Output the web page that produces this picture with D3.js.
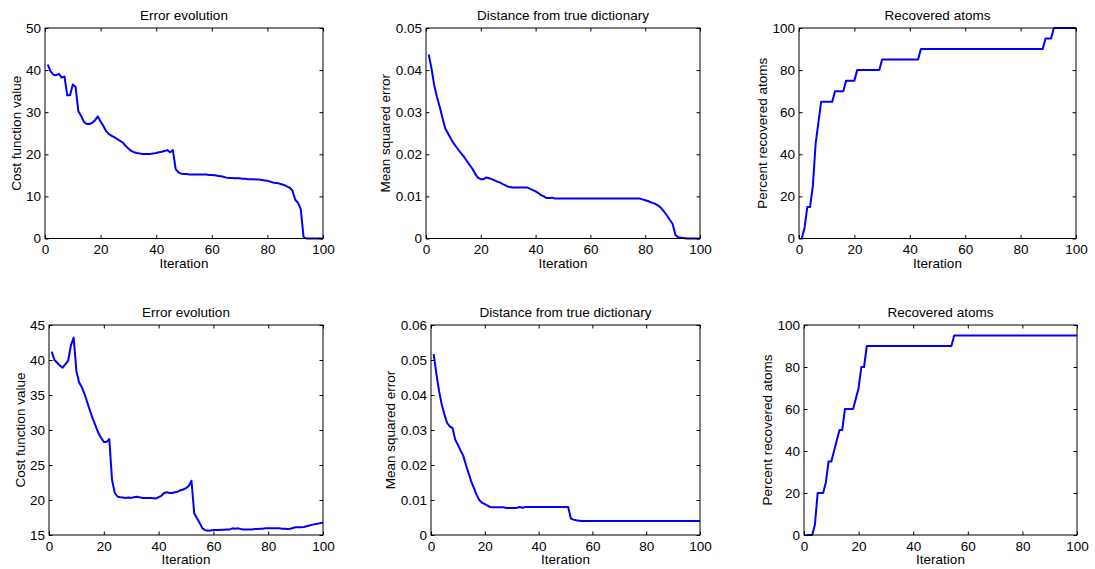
<!DOCTYPE html>
<html>
<head>
<meta charset="utf-8">
<script src="https://cdn.jsdelivr.net/npm/d3@7"></script>
<style>
  html, body { margin: 0; padding: 0; background: #fff; }
  svg { display: block; }
  text { font-family: "Liberation Sans", Arial, Helvetica, sans-serif; fill: #000; }
</style>
</head>
<body>
<svg id="chart" width="1095" height="569"></svg>
<script>
// Iteration index shared by every panel
const iterations = d3.range(1, 101);
const xTicks = [0, 20, 40, 60, 80, 100];

// Run A (top row)
const costA = [
  41.3, 39.7, 38.9, 38.8, 39.1, 38.2, 38.5, 34.0, 34.0, 36.6,
  36.0, 30.2, 29.1, 27.7, 27.2, 27.2, 27.5, 28.1, 29.0, 27.8,
  26.7, 25.5, 24.8, 24.4, 24.0, 23.6, 23.2, 22.8, 22.0, 21.4,
  20.8, 20.5, 20.3, 20.2, 20.1, 20.1, 20.1, 20.1, 20.2, 20.3,
  20.5, 20.6, 20.8, 21.0, 20.5, 21.0, 16.5, 15.7, 15.4, 15.3,
  15.3, 15.2, 15.2, 15.2, 15.2, 15.2, 15.2, 15.2, 15.1, 15.1,
  15.0, 14.9, 14.8, 14.7, 14.5, 14.4, 14.4, 14.3, 14.3, 14.3,
  14.2, 14.2, 14.1, 14.1, 14.1, 14.0, 14.0, 13.9, 13.8, 13.7,
  13.5, 13.3, 13.2, 13.1, 12.9, 12.7, 12.4, 12.1, 11.4, 9.2,
  8.5, 7.0, 0.4, 0, 0, 0, 0, 0, 0, 0
];
const mseA = [
  0.0437, 0.0404, 0.0364, 0.0336, 0.0313, 0.0287, 0.0262, 0.0250, 0.0238, 0.0227,
  0.0218, 0.0209, 0.0201, 0.0193, 0.0183, 0.0174, 0.0165, 0.0153, 0.0144, 0.0141,
  0.0141, 0.0145, 0.0143, 0.0141, 0.0138, 0.0135, 0.0133, 0.0129, 0.0126, 0.0123,
  0.0122, 0.0121, 0.0121, 0.0121, 0.0121, 0.0121, 0.0121, 0.0118, 0.0115, 0.0112,
  0.0108, 0.0103, 0.0100, 0.0096, 0.0096, 0.0097, 0.0095, 0.0095, 0.0095, 0.0095,
  0.0095, 0.0095, 0.0095, 0.0095, 0.0095, 0.0095, 0.0095, 0.0095, 0.0095, 0.0095,
  0.0095, 0.0095, 0.0095, 0.0095, 0.0095, 0.0095, 0.0095, 0.0095, 0.0095, 0.0095,
  0.0095, 0.0095, 0.0095, 0.0095, 0.0095, 0.0095, 0.0095, 0.0095, 0.0093, 0.0091,
  0.0089, 0.0086, 0.0084, 0.0081, 0.0077, 0.0071, 0.0063, 0.0054, 0.0044, 0.0035,
  0.0009, 0.0003, 0.0002, 0.0001, 0, 0, 0, 0, 0, 0
];
const recoveredA = [
  0, 5, 15, 15, 25, 45, 55, 65, 65, 65,
  65, 65, 70, 70, 70, 70, 75, 75, 75, 75,
  80, 80, 80, 80, 80, 80, 80, 80, 80, 85,
  85, 85, 85, 85, 85, 85, 85, 85, 85, 85,
  85, 85, 85, 90, 90, 90, 90, 90, 90, 90,
  90, 90, 90, 90, 90, 90, 90, 90, 90, 90,
  90, 90, 90, 90, 90, 90, 90, 90, 90, 90,
  90, 90, 90, 90, 90, 90, 90, 90, 90, 90,
  90, 90, 90, 90, 90, 90, 90, 90, 95, 95,
  95, 100, 100, 100, 100, 100, 100, 100, 100, 100
];

// Run B (bottom row)
const costB = [
  41.2, 40.0, 39.6, 39.2, 38.9, 39.4, 39.9, 42.1, 43.2, 38.4,
  36.8, 36.1, 35.1, 33.9, 32.7, 31.6, 30.6, 29.6, 28.9, 28.3,
  28.3, 28.7, 22.9, 21.0, 20.5, 20.4, 20.35, 20.3, 20.35, 20.3,
  20.4, 20.45, 20.4, 20.3, 20.3, 20.3, 20.3, 20.25, 20.2, 20.4,
  20.6, 21.0, 21.1, 21.0, 21.0, 21.1, 21.2, 21.4, 21.5, 21.7,
  22.0, 22.75, 18.1, 17.4, 16.7, 15.95, 15.7, 15.6, 15.65, 15.7,
  15.7, 15.7, 15.75, 15.75, 15.8, 15.8, 15.95, 15.9, 15.95, 15.85,
  15.8, 15.8, 15.8, 15.8, 15.85, 15.85, 15.9, 15.9, 15.95, 15.95,
  15.95, 15.95, 15.95, 15.95, 15.9, 15.9, 15.85, 15.9, 16.0, 16.1,
  16.1, 16.1, 16.15, 16.25, 16.35, 16.45, 16.55, 16.6, 16.7, 16.75
];
const mseB = [
  0.0517, 0.0460, 0.0411, 0.0373, 0.0344, 0.0320, 0.0310, 0.0306, 0.0272, 0.0258,
  0.0241, 0.0226, 0.0200, 0.0176, 0.0152, 0.0133, 0.0114, 0.0099, 0.0092, 0.0088,
  0.0084, 0.0080, 0.0079, 0.0079, 0.0079, 0.0079, 0.0079, 0.0077, 0.0077, 0.0077,
  0.0077, 0.0078, 0.0080, 0.0078, 0.0080, 0.0080, 0.0080, 0.0080, 0.0080, 0.0080,
  0.0080, 0.0080, 0.0080, 0.0080, 0.0080, 0.0080, 0.0080, 0.0080, 0.0080, 0.0080,
  0.0080, 0.0047, 0.0044, 0.0042, 0.0041, 0.0040, 0.0040, 0.0040, 0.0040, 0.0040,
  0.0040, 0.0040, 0.0040, 0.0040, 0.0040, 0.0040, 0.0040, 0.0040, 0.0040, 0.0040,
  0.0040, 0.0040, 0.0040, 0.0040, 0.0040, 0.0040, 0.0040, 0.0040, 0.0040, 0.0040,
  0.0040, 0.0040, 0.0040, 0.0040, 0.0040, 0.0040, 0.0040, 0.0040, 0.0040, 0.0040,
  0.0040, 0.0040, 0.0040, 0.0040, 0.0040, 0.0040, 0.0040, 0.0040, 0.0040, 0.0040
];
const recoveredB = [
  0, 0, 0, 5, 20, 20, 20, 25, 35, 35,
  40, 45, 50, 50, 60, 60, 60, 60, 65, 70,
  80, 80, 90, 90, 90, 90, 90, 90, 90, 90,
  90, 90, 90, 90, 90, 90, 90, 90, 90, 90,
  90, 90, 90, 90, 90, 90, 90, 90, 90, 90,
  90, 90, 90, 90, 95, 95, 95, 95, 95, 95,
  95, 95, 95, 95, 95, 95, 95, 95, 95, 95,
  95, 95, 95, 95, 95, 95, 95, 95, 95, 95,
  95, 95, 95, 95, 95, 95, 95, 95, 95, 95,
  95, 95, 95, 95, 95, 95, 95, 95, 95, 95
];

// Titles, axis labels and y ticks for each kind of panel
const titles = ["Error evolution", "Distance from true dictionary", "Recovered atoms"];
const yLabels = ["Cost function value", "Mean squared error", "Percent recovered atoms"];
const yTicksCostA = [0, 10, 20, 30, 40, 50];
const yTicksMseA = [0, 0.01, 0.02, 0.03, 0.04, 0.05];
const yTicksRecovered = [0, 20, 40, 60, 80, 100];
const yTicksCostB = [15, 20, 25, 30, 35, 40, 45];
const yTicksMseB = [0, 0.01, 0.02, 0.03, 0.04, 0.05, 0.06];

const fmtMse = d => d === 0 ? "0" : d.toFixed(2);
const fmtInt = d => String(d);

// Panel boxes in page pixels
const panels = [
  { box: [45, 28, 323, 238.5],  values: costA,      kind: 0, ticks: yTicksCostA,     fmt: fmtInt },
  { box: [426, 28, 700, 238.5], values: mseA,       kind: 1, ticks: yTicksMseA,      fmt: fmtMse },
  { box: [799, 28, 1076, 238.5], values: recoveredA, kind: 2, ticks: yTicksRecovered, fmt: fmtInt },
  { box: [49, 325, 323, 535],   values: costB,      kind: 0, ticks: yTicksCostB,     fmt: fmtInt },
  { box: [431, 325, 700, 535],  values: mseB,       kind: 1, ticks: yTicksMseB,      fmt: fmtMse },
  { box: [804, 325, 1077, 535], values: recoveredB, kind: 2, ticks: yTicksRecovered, fmt: fmtInt }
];

const FONT = 13.5;
const TICK = 3.5;
const svg = d3.select("#chart");

panels.forEach(p => {
  const [x0, y0, x1, y1] = p.box;
  const x = d3.scaleLinear().domain([0, 100]).range([x0, x1]);
  const y = d3.scaleLinear().domain(d3.extent(p.ticks)).range([y1, y0]);
  const g = svg.append("g");

  // data line
  const line = d3.line().x((d, i) => x(iterations[i])).y(d => y(d));
  g.append("path")
    .datum(p.values)
    .attr("d", line)
    .attr("fill", "none")
    .attr("stroke", "#0000ff")
    .attr("stroke-width", 2)
    .attr("stroke-linejoin", "round");

  // inward ticks on all four sides
  const styleAxis = sel => {
    sel.select(".domain").remove();
    sel.selectAll(".tick line").attr("stroke", "#000").attr("stroke-width", 1);
    sel.selectAll("text")
      .attr("font-family", "'Liberation Sans', Arial, Helvetica, sans-serif")
      .attr("font-size", FONT)
      .attr("fill", "#000");
    sel.attr("font-size", null).attr("font-family", null);
  };

  g.append("g").attr("transform", `translate(0,${y1})`)
    .call(d3.axisBottom(x).tickValues(xTicks).tickSizeInner(-TICK).tickSizeOuter(0).tickPadding(6).tickFormat(fmtInt))
    .call(styleAxis);
  g.append("g").attr("transform", `translate(0,${y0})`)
    .call(d3.axisTop(x).tickValues(xTicks).tickSizeInner(-TICK).tickSizeOuter(0).tickFormat(""))
    .call(styleAxis);
  const left = g.append("g").attr("transform", `translate(${x0},0)`)
    .call(d3.axisLeft(y).tickValues(p.ticks).tickSizeInner(-TICK).tickSizeOuter(0).tickPadding(4).tickFormat(p.fmt))
    .call(styleAxis);
  g.append("g").attr("transform", `translate(${x1},0)`)
    .call(d3.axisRight(y).tickValues(p.ticks).tickSizeInner(-TICK).tickSizeOuter(0).tickFormat(""))
    .call(styleAxis);

  // frame
  g.append("rect")
    .attr("x", x0).attr("y", y0)
    .attr("width", x1 - x0).attr("height", y1 - y0)
    .attr("fill", "none").attr("stroke", "#000").attr("stroke-width", 1);

  // title
  g.append("text")
    .attr("x", (x0 + x1) / 2).attr("y", y0 - 8.5)
    .attr("text-anchor", "middle")
    .attr("font-size", FONT)
    .text(titles[p.kind]);

  // x label
  g.append("text")
    .attr("x", (x0 + x1) / 2).attr("y", y1 + 29)
    .attr("text-anchor", "middle")
    .attr("font-size", FONT)
    .text("Iteration");

  // y label, placed just outside the widest tick label
  let maxW = 0;
  left.selectAll(".tick text").each(function () {
    maxW = Math.max(maxW, this.getComputedTextLength());
  });
  const lx = x0 - maxW - 4 - 5.3;
  const ly = (y0 + y1) / 2;
  g.append("text")
    .attr("transform", `translate(${lx},${ly}) rotate(-90)`)
    .attr("text-anchor", "middle")
    .attr("font-size", FONT)
    .text(yLabels[p.kind]);
});
</script>
</body>
</html>
